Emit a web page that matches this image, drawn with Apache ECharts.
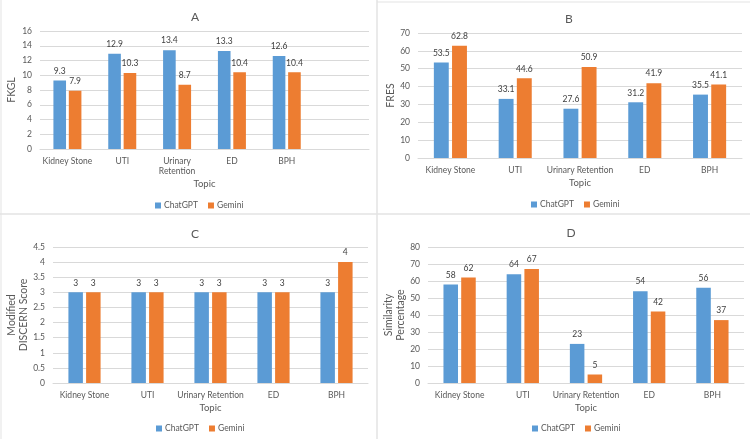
<!DOCTYPE html>
<html>
<head>
<meta charset="utf-8">
<script src="https://cdn.jsdelivr.net/npm/echarts@6/dist/echarts.min.js"></script>
<style>
  html, body { margin: 0; padding: 0; background: #fff; }
  #chart { width: 750px; height: 439px; }
</style>
</head>
<body>
<div id="chart"></div>
<script>
var topics = ['Kidney Stone', 'UTI', 'Urinary Retention', 'ED', 'BPH'];
var seriesNames = ['ChatGPT', 'Gemini'];

var fkglChatGPT = [9.3, 12.9, 13.4, 13.3, 12.6];
var fkglGemini = [7.9, 10.3, 8.7, 10.4, 10.4];
var fresChatGPT = [53.5, 33.1, 27.6, 31.2, 35.5];
var fresGemini = [62.8, 44.6, 50.9, 41.9, 41.1];
var discernChatGPT = [3, 3, 3, 3, 3];
var discernGemini = [3, 3, 3, 3, 4];
var simChatGPT = [58, 64, 23, 54, 56];
var simGemini = [62, 67, 5, 42, 37];

var blue = '#5B9BD5';
var orange = '#ED7D31';
var txt = '#595959';
var font = 'Lato';

var myChart = echarts.init(document.getElementById('chart'));

// one entry per panel: grid box, title/legend spots, axis names
var panels = [
    { title: 'A', grid: { left: 40, right: 381, top: 31, bottom: 290 }, tx: 190, ty: 6, lx: 155, ly: 201,
      yName: 'FKGL', yGap: 22, xGap: 30, max: 16, step: 2, cats: topics.concat(['']), wrap: true,
      data: [fkglChatGPT, fkglGemini] },
    { title: 'B', grid: { left: 418, right: 8, top: 33, bottom: 281 }, tx: 564, ty: 8, lx: 531, ly: 200,
      yName: 'FRES', yGap: 19, xGap: 20, max: 70, step: 10, cats: topics, wrap: false,
      data: [fresChatGPT, fresGemini] },
    { title: 'C', grid: { left: 53, right: 382, top: 247, bottom: 56 }, tx: 190, ty: 223, lx: 156, ly: 424,
      yName: 'Modified\nDISCERN Score', yGap: 18, xGap: 20, max: 4.5, step: 0.5, cats: topics, wrap: false,
      data: [discernChatGPT, discernGemini] },
    { title: 'D', grid: { left: 428, right: 6, top: 247, bottom: 56 }, tx: 566, ty: 222, lx: 532, ly: 424,
      yName: 'Similarity\nPercentage', yGap: 17, xGap: 20, max: 80, step: 10, cats: topics, wrap: false,
      data: [simChatGPT, simGemini] }
];

var option = {
    animation: false,
    textStyle: { fontFamily: font },
    title: [], legend: [], grid: [], xAxis: [], yAxis: [], series: [],
    graphic: [
        { type: 'line', shape: { x1: 377, y1: 0, x2: 377, y2: 439 }, style: { stroke: '#E3E3E3', lineWidth: 1.5 } },
        { type: 'line', shape: { x1: 0, y1: 214, x2: 750, y2: 214 }, style: { stroke: '#E3E3E3', lineWidth: 1.5 } },
        { type: 'line', shape: { x1: 1, y1: 0, x2: 1, y2: 439 }, style: { stroke: '#E3E3E3', lineWidth: 1 } },
        { type: 'line', shape: { x1: 377, y1: 2, x2: 750, y2: 2 }, style: { stroke: '#E3E3E3', lineWidth: 1 } }
    ]
};

panels.forEach(function (p, i) {
    option.title.push({
        text: p.title, left: p.tx, top: p.ty, textAlign: 'center',
        textStyle: { fontSize: 12, fontWeight: 'normal', color: txt, fontFamily: font }
    });
    option.legend.push({
        data: seriesNames, left: p.lx, top: p.ly, padding: 0,
        itemWidth: 6, itemHeight: 6, itemGap: 10, icon: 'rect',
        textStyle: { fontSize: 8.5, color: txt, fontFamily: font, padding: [0, 0, 0, -2] }
    });
    option.grid.push(p.grid);
    option.xAxis.push({
        type: 'category', gridIndex: i, data: p.cats,
        name: 'Topic', nameLocation: 'middle', nameGap: p.xGap,
        nameTextStyle: { fontSize: 9.5, color: txt },
        axisLine: { lineStyle: { color: '#D9D9D9' } },
        axisTick: { show: false },
        axisLabel: {
            fontSize: 8.5, color: txt, margin: 7, interval: 0, lineHeight: 10,
            formatter: function (v) { return p.wrap ? v.replace(' Retention', '\nRetention') : v; }
        }
    });
    option.yAxis.push({
        type: 'value', gridIndex: i, min: 0, max: p.max, interval: p.step,
        name: p.yName, nameLocation: 'middle', nameGap: p.yGap, nameRotate: 90,
        nameTextStyle: { fontSize: 10.5, color: txt, lineHeight: 12 },
        axisLine: { show: false }, axisTick: { show: false },
        axisLabel: { fontSize: 8.5, color: txt, margin: 8 },
        splitLine: { lineStyle: { color: '#D9D9D9' } }
    });
    seriesNames.forEach(function (name, k) {
        option.series.push({
            name: name, type: 'bar', xAxisIndex: i, yAxisIndex: i,
            data: p.data[k], barWidth: '23%', barGap: '22%',
            itemStyle: { color: k === 0 ? blue : orange },
            label: { show: true, position: 'top', distance: 5, fontSize: 8.5, color: '#404040' }
        });
    });
});

myChart.setOption(option);
</script>
</body>
</html>
